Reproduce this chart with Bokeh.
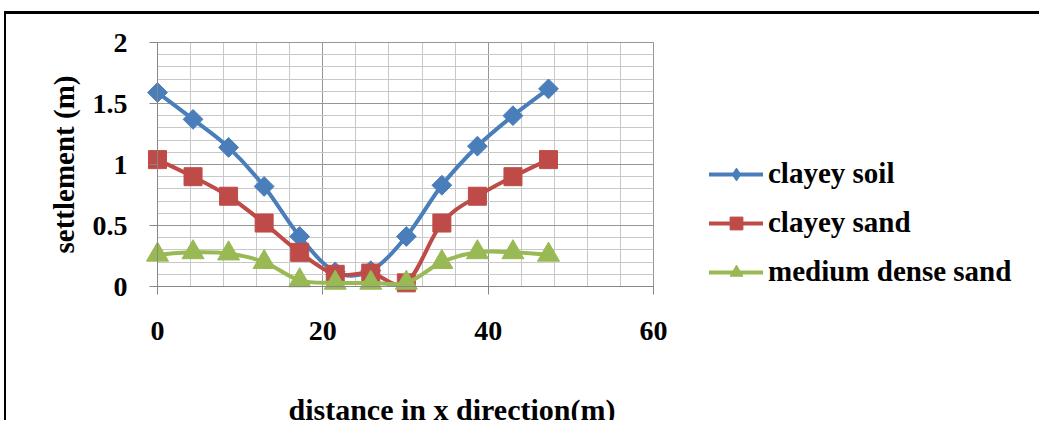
import numpy as np
from bokeh.plotting import figure
from bokeh.models import (Range1d, SingleIntervalTicker, Legend, LegendItem, Label,
                          NumeralTickFormatter, ColumnDataSource)
from bokeh.embed import file_html
from bokeh.resources import INLINE

# ---------------- data ----------------
distance = [0, 4.3, 8.6, 12.9, 17.2, 21.5, 25.8, 30.1, 34.4, 38.7, 43.0, 47.3]
clayey_soil = [1.59, 1.37, 1.14, 0.82, 0.41, 0.12, 0.13, 0.41, 0.83, 1.15, 1.40, 1.62]
clayey_sand = [1.04, 0.90, 0.74, 0.52, 0.28, 0.10, 0.11, 0.03, 0.52, 0.74, 0.90, 1.04]
medium_dense_sand = [0.26, 0.28, 0.27, 0.20, 0.05, 0.03, 0.03, 0.03, 0.20, 0.28, 0.28, 0.26]
series_names = ["clayey soil", "clayey sand", "medium dense sand"]
x_title = "distance in x direction(m)"
y_title = "settlement (m)"
x_lim = (0, 60)
y_lim = (0, 2)

FONT = "Liberation Serif"
colors = ["#4A7EBB", "#BE4B48", "#98B954"]

# ---------------- layout (pixels on the canvas) ----------------
W, H = 1035, 409
plot_left, plot_right = 151, 647
plot_top, plot_bottom = 28, 272
kx = (x_lim[1] - x_lim[0]) / (plot_right - plot_left)
ky = (y_lim[1] - y_lim[0]) / (plot_bottom - plot_top)
xr = Range1d(x_lim[0] - plot_left * kx, x_lim[1] + (W - plot_right) * kx)
yr = Range1d(y_lim[0] - (H - plot_bottom) * ky, y_lim[1] + plot_top * ky)

p = figure(width=W, height=H, output_backend="svg", toolbar_location=None,
           x_range=xr, y_range=yr, min_border=0, outline_line_color=None,
           background_fill_color="white", border_fill_color="white")
p.styles = {"border-top": "3px solid black", "border-left": "2px solid black",
            "margin-top": "11px", "margin-left": "4px"}

# axes
p.xaxis.ticker = SingleIntervalTicker(interval=20, num_minor_ticks=5)
p.yaxis.ticker = SingleIntervalTicker(interval=0.5, num_minor_ticks=5)
p.yaxis.formatter = NumeralTickFormatter(format="0.[0]")
p.xaxis.fixed_location = y_lim[0]
p.yaxis.fixed_location = x_lim[0]
p.xaxis.bounds = x_lim
p.yaxis.bounds = y_lim
for ax in (p.xaxis[0], p.yaxis[0]):
    ax.axis_line_color = "#868686"
    ax.major_tick_line_color = "#868686"
    ax.major_tick_out = 8
    ax.major_tick_in = 0
    ax.minor_tick_out = 0
    ax.minor_tick_in = 0
    ax.major_label_text_font = FONT
    ax.major_label_text_font_size = "28px"
    ax.major_label_text_font_style = "bold"
    ax.major_label_text_color = "black"
p.xaxis.major_label_standoff = 27
p.yaxis.major_label_standoff = 22
p.yaxis.axis_label = y_title
p.yaxis.axis_label_text_font = FONT
p.yaxis.axis_label_text_font_size = "29px"
p.yaxis.axis_label_text_font_style = "bold"
p.yaxis.axis_label_text_color = "black"
p.yaxis.axis_label_standoff = 10

# grids
p.xgrid.cross_bounds = y_lim
p.ygrid.cross_bounds = x_lim
for g in (p.xgrid[0], p.ygrid[0]):
    g.grid_line_color = "#969696"
    g.minor_grid_line_color = "#c8c8c8"
    g.grid_line_width = 1
    g.minor_grid_line_width = 1

# smoothed series (Bezier through data points)
def bezier_source(xs, ys):
    pts = np.column_stack([xs, ys]).astype(float)
    n = len(pts)
    rows = {k: [] for k in ("x0", "y0", "x1", "y1", "cx0", "cy0", "cx1", "cy1")}
    for i in range(n - 1):
        p0 = pts[i - 1] if i > 0 else pts[i]
        p1 = pts[i]
        p2 = pts[i + 1]
        p3 = pts[i + 2] if i + 2 < n else pts[i + 1]
        c1 = p1 + (p2 - p0) / 6.0
        c2 = p2 - (p3 - p1) / 6.0
        rows["x0"].append(p1[0]); rows["y0"].append(p1[1])
        rows["x1"].append(p2[0]); rows["y1"].append(p2[1])
        rows["cx0"].append(c1[0]); rows["cy0"].append(c1[1])
        rows["cx1"].append(c2[0]); rows["cy1"].append(c2[1])
    return ColumnDataSource(rows)

series = [clayey_soil, clayey_sand, medium_dense_sand]
items = []
for name, ys, col in zip(series_names, series, colors):
    src = bezier_source(distance, ys)
    bz = p.bezier(x0="x0", y0="y0", x1="x1", y1="y1", cx0="cx0", cy0="cy0",
                  cx1="cx1", cy1="cy1", source=src, line_color=col, line_width=4,
                  line_cap="round")
    if name == "clayey soil":
        mk = p.scatter(distance, ys, marker="square", angle=np.pi / 4, size=14,
                       fill_color=col, line_color=col)
        # legend-only diamond sample (no data point)
        leg_mk = p.scatter([np.nan], [np.nan], marker="diamond", size=11,
                           fill_color=col, line_color=col)
    elif name == "clayey sand":
        mk = p.scatter(distance, ys, marker="square", size=18,
                       fill_color=col, line_color=col)
        leg_mk = mk
    else:
        mk = p.scatter(distance, ys, marker="triangle", size=22,
                       fill_color=col, line_color=col)
        leg_mk = mk
    items.append(LegendItem(label=name, renderers=[bz, leg_mk]))

legend = Legend(items=items, location=(703, 135), orientation="vertical",
                glyph_width=54, glyph_height=32, label_standoff=5, spacing=16,
                padding=0, margin=0, border_line_color=None,
                background_fill_alpha=0, label_text_font=FONT,
                label_text_font_size="29px", label_text_font_style="bold",
                label_text_color="black")
p.add_layout(legend, "center")

p.add_layout(Label(x=282, y=14, x_units="screen", y_units="screen", text=x_title,
                   text_font=FONT, text_font_size="30px", text_font_style="bold",
                   text_color="black", text_baseline="alphabetic"))

open("out.html", "w").write(file_html(p, INLINE))
